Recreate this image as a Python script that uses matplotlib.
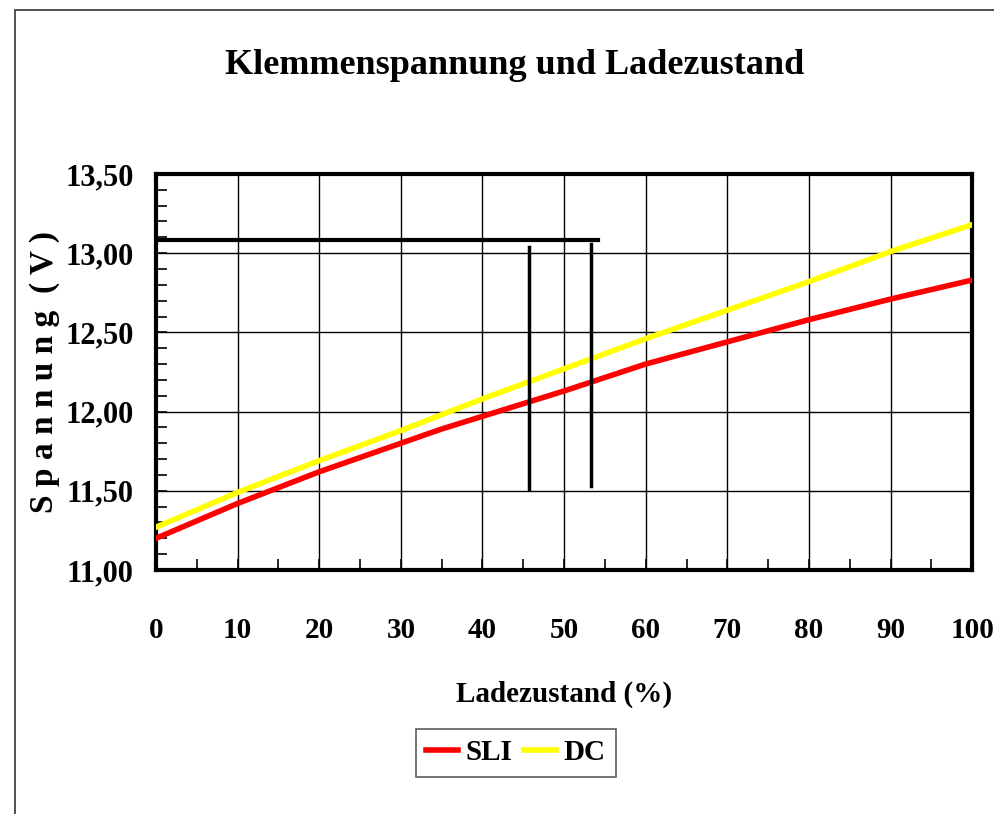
import matplotlib.pyplot as plt
from matplotlib.ticker import MultipleLocator, FuncFormatter
from matplotlib.patches import Rectangle

# Ladezustand (%) und Klemmenspannung (V)
soc_sli = [0, 10, 20, 30, 35, 40, 50, 60, 70, 80, 90, 100]
volt_sli = [11.20, 11.42, 11.62, 11.80, 11.89, 11.97, 12.13, 12.30, 12.44, 12.58, 12.71, 12.83]
soc_dc = [0, 10, 20, 30, 40, 50, 60, 70, 80, 90, 100]
volt_dc = [11.27, 11.49, 11.69, 11.88, 12.08, 12.27, 12.46, 12.64, 12.82, 13.01, 13.18]

# Markierungslinien
hline_y = 13.08
hline_x = [0.4, 54.1]
vlines_x = [45.7, 53.3]
vlines_lo = [11.51, 11.53]
vlines_hi = [13.04, 13.06]

plt.rcParams['font.family'] = ['Liberation Serif', 'DejaVu Serif']
plt.rcParams['font.weight'] = 'bold'

fig = plt.figure(figsize=(9.94, 8.14), dpi=100, facecolor='white')
ax = fig.add_axes([0.157, 0.2998, 0.821, 0.4865])

# Rahmen um das Diagramm
fig.patches.append(Rectangle((15 / 994, -0.1), 1.2, 1.1 - 10 / 814,
                             transform=fig.transFigure, fill=False,
                             edgecolor='#333333', lw=1.2))

ax.plot(soc_sli, volt_sli, color='#ff0000', lw=4, label='SLI', zorder=3)
ax.plot(soc_dc, volt_dc, color='#ffff00', lw=4, label='DC', zorder=3)

ax.plot(hline_x, [hline_y, hline_y], color='black', lw=3, zorder=4)
for x, lo, hi in zip(vlines_x, vlines_lo, vlines_hi):
    ax.plot([x, x], [lo, hi], color='black', lw=2.5, zorder=4)

ax.set_xlim(0, 100)
ax.set_ylim(11.0, 13.5)
ax.xaxis.set_major_locator(MultipleLocator(10))
ax.xaxis.set_minor_locator(MultipleLocator(5))
ax.yaxis.set_major_locator(MultipleLocator(0.5))
ax.yaxis.set_minor_locator(MultipleLocator(0.1))
ax.yaxis.set_major_formatter(FuncFormatter(lambda v, p: f'{v:.2f}'.replace('.', ',')))
ax.grid(True, which='major', color='black', lw=1)

ax.tick_params(axis='x', which='both', direction='in', length=8, width=1.2,
               pad=34, labelsize=21)
ax.tick_params(axis='y', which='both', direction='in', length=8, width=1.2,
               pad=16, labelsize=22)
for s in ax.spines.values():
    s.set_linewidth(3)

fig.text(515 / 994, 1 - 66 / 814, 'Klemmenspannung und Ladezustand',
         fontsize=26, fontweight='bold', ha='center', va='center')
ax.set_xlabel('Ladezustand (%)', fontsize=21, fontweight='bold', labelpad=26)
ax.set_ylabel('S p a n n u n g  ( V )', fontsize=24, fontweight='bold', labelpad=4)

leg = fig.legend(loc='center', bbox_to_anchor=(516 / 994, 1 - 753 / 814),
                 ncol=2, fontsize=21, frameon=True, fancybox=False,
                 edgecolor='#333333', handlelength=1.1, columnspacing=0.4,
                 handletextpad=0.25, borderpad=0.35, borderaxespad=0)
leg.get_frame().set_linewidth(1.2)

fig.savefig('out.png', dpi=100, facecolor='white')
